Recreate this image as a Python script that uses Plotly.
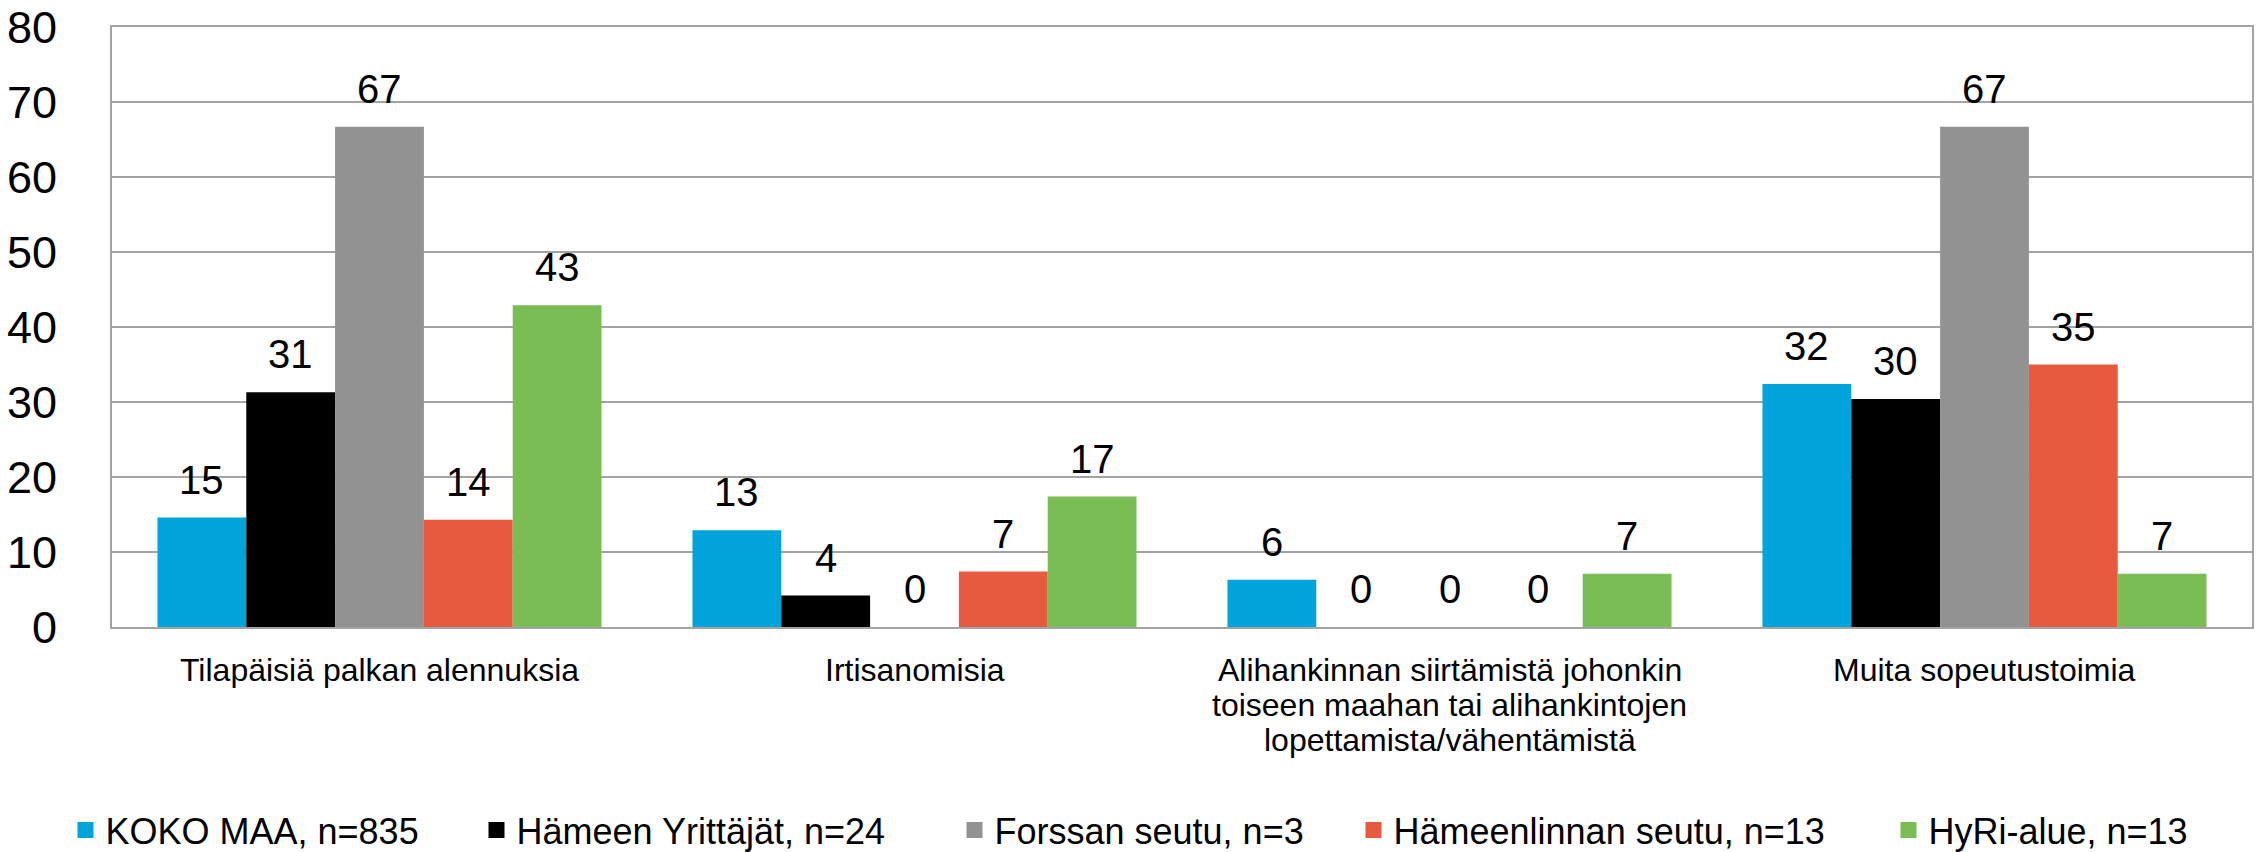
import plotly.graph_objects as go

categories = [
    "Tilapäisiä palkan alennuksia",
    "Irtisanomisia",
    "Alihankinnan siirtämistä johonkin<br>toiseen maahan tai alihankintojen<br>lopettamista/vähentämistä",
    "Muita sopeutustoimia",
]
series_names = [
    "KOKO MAA, n=835",
    "Hämeen Yrittäjät, n=24",
    "Forssan seutu, n=3",
    "Hämeenlinnan seutu, n=13",
    "HyRi-alue, n=13",
]
koko_maa = [14.6, 12.9, 6.3, 32.4]
hameen_yrittajat = [31.3, 4.2, 0, 30.4]
forssan_seutu = [66.7, 0, 0, 66.7]
hameenlinnan_seutu = [14.3, 7.4, 0, 35.0]
hyri_alue = [42.9, 17.4, 7.1, 7.1]
colors = ["#00A3DA", "#000000", "#929292", "#E75A40", "#7BBD55"]
y_ticks = [0, 10, 20, 30, 40, 50, 60, 70, 80]

values = [koko_maa, hameen_yrittajat, forssan_seutu, hameenlinnan_seutu, hyri_alue]

W, H = 2260, 852
ML, MR, MT, MB = 112, 8, 27, 225
BARGAP = 0.17
FONT = "Liberation Sans, Arial, sans-serif"
legend_centers = [78.5, 489.5, 967.5, 1366.5, 1901.5]  # legend symbol centres (px)
LEGEND_Y = 830

fig = go.Figure()
n = len(series_names)
for name, vals, col in zip(series_names, values, colors):
    fig.add_trace(go.Bar(
        x=categories, y=vals, name=name, showlegend=False,
        marker=dict(color=col, line=dict(width=0)),
    ))

# legend entries with larger square symbols, one legend per entry
legend_layouts = {}
for i, (name, col) in enumerate(zip(series_names, colors)):
    lg = "legend" if i == 0 else f"legend{i + 1}"
    fig.add_trace(go.Scatter(
        x=[None], y=[None], mode="markers", name=name, legend=lg,
        marker=dict(symbol="square", size=19, color=col), showlegend=True,
    ))
    legend_layouts[lg] = dict(
        orientation="h", xref="container", x=(legend_centers[i] - 13) / W, xanchor="left",
        yref="container", y=1 - LEGEND_Y / H, yanchor="middle",
        font=dict(size=36, family=FONT, color="#000000"), bgcolor="rgba(0,0,0,0)",
    )

# value labels above bars
plot_w = W - ML - MR
cat_w = plot_w / len(categories)
bar_w = cat_w * (1 - BARGAP) / n
for i, vals in enumerate(values):
    for cat, v in zip(categories, vals):
        fig.add_annotation(
            x=cat, y=v, xref="x", yref="y", text=f"{v:.0f}", showarrow=False,
            xshift=(i - (n - 1) / 2) * bar_w, yshift=14, yanchor="bottom",
            font=dict(size=40, color="#000000", family=FONT),
        )

# category labels (tight line spacing)
for cat in categories:
    for k, line in enumerate(cat.split("<br>")):
        fig.add_annotation(
            x=cat, y=0, xref="x", yref="paper", text=line, showarrow=False,
            yanchor="top", yshift=-23 - 35 * k,
            font=dict(size=32, color="#000000", family=FONT),
        )

fig.update_layout(
    width=W, height=H,
    margin=dict(l=ML, r=MR, t=MT, b=MB, autoexpand=False),
    paper_bgcolor="white", plot_bgcolor="white",
    barmode="group", bargap=BARGAP, bargroupgap=0,
    font=dict(family=FONT, color="#000000"),
    showlegend=True,
    **legend_layouts,
)
fig.update_yaxes(
    range=[0, 80], tickvals=y_ticks, ticktext=[str(t) for t in y_ticks],
    showgrid=True, gridcolor="#A3A3A3", gridwidth=2,
    showline=True, linecolor="#A3A3A3", linewidth=2, mirror=True,
    ticks="", tickfont=dict(size=45), ticklabelstandoff=44, zeroline=False,
    automargin=False,
)
fig.update_xaxes(
    showline=True, linecolor="#A3A3A3", linewidth=2, mirror=True,
    ticks="", showticklabels=False, automargin=False,
)

fig.write_html(
    "out.html",
    config={"displayModeBar": False},
    post_script="document.body.style.margin='0';document.body.style.overflow='hidden';",
)
